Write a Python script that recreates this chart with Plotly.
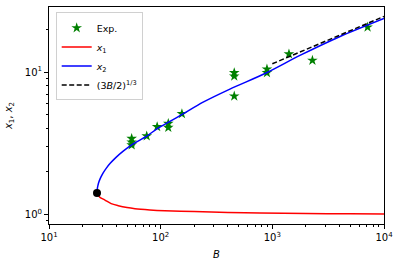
import plotly.graph_objects as go

# Experimental points
exp_B = [55, 55, 55, 75, 93, 117, 117, 155, 456, 456, 456, 895, 895, 1409, 2285, 7130]
exp_x = [3.07, 3.22, 3.41, 3.55, 4.13, 4.08, 4.35, 5.09, 9.89, 9.37, 6.78, 10.5, 9.89, 13.4, 12.1, 20.7]

# Branch x1 (lower, red)
x1_B = [26.9, 27.4, 28.6, 31.7, 36.0, 41.7, 50.0, 58.9, 80.0, 109, 200, 400, 774, 2000, 5000, 10000]
x1_x = [1.41, 1.37, 1.317, 1.26, 1.19, 1.15, 1.115, 1.095, 1.074, 1.06, 1.045, 1.03, 1.021, 1.013, 1.008, 1.005]

# Branch x2 (upper, blue)
x2_B = [26.9, 27.04, 27.43, 28.10, 29.07, 30.37, 32.51, 35.33, 39.84, 45.9, 55.0, 75.0, 94.0,
        120, 157, 240, 417, 889, 1766, 4000, 10000]
x2_x = [1.41, 1.499, 1.599, 1.706, 1.820, 1.942, 2.106, 2.283, 2.515, 2.772, 3.08, 3.55, 4.02,
        4.48, 5.06, 6.15, 7.6, 9.9, 13.1, 17.75, 23.85]

# Asymptote (3B/2)^(1/3)
asym_B = [1000, 10000]
asym_x = [11.45, 24.66]

# Fold point
fold_B = [26.9]
fold_x = [1.41]

x_tickvals = [10, 100, 1000, 10000]
x_ticktext = ["10<sup>1</sup>", "10<sup>2</sup>", "10<sup>3</sup>", "10<sup>4</sup>"]
y_tickvals = [1, 10]
y_ticktext = ["10<sup>0</sup>", "10<sup>1</sup>"]

x_minor = [m * d for d in (10, 100, 1000) for m in range(2, 10)]
y_minor = [0.9] + [m for m in range(2, 10)] + [20]

fig = go.Figure()
fig.add_trace(go.Scatter(x=exp_B, y=exp_x, mode="markers", name="Exp.",
                         marker=dict(symbol="star", color="green", size=8,
                                     line=dict(width=0))))
fig.add_trace(go.Scatter(x=x1_B, y=x1_x, mode="lines", name="<i>x</i><sub>1</sub>",
                         line=dict(color="red", width=1.5, shape="spline", smoothing=0.8)))
fig.add_trace(go.Scatter(x=x2_B, y=x2_x, mode="lines", name="<i>x</i><sub>2</sub>",
                         line=dict(color="blue", width=1.5, shape="spline", smoothing=0.8)))
fig.add_trace(go.Scatter(x=asym_B, y=asym_x, mode="lines",
                         name="(3<i>B</i>/2)<sup>1/3</sup>",
                         line=dict(color="black", width=1.5, dash="5px,2.5px")))
fig.add_trace(go.Scatter(x=fold_B, y=fold_x, mode="markers", showlegend=False,
                         marker=dict(color="black", size=8)))

axis_common = dict(type="log", showline=True, linecolor="black", linewidth=1,
                   mirror=True, ticks="outside", ticklen=4, tickcolor="black",
                   showgrid=False, zeroline=False,
                   tickfont=dict(family="DejaVu Sans", size=10, color="black"))

fig.update_layout(
    width=400, height=268,
    margin=dict(l=49, r=16, t=7, b=44),
    paper_bgcolor="white", plot_bgcolor="white",
    font=dict(family="DejaVu Sans", size=10, color="black"),
    xaxis=dict(range=[1, 4], tickmode="array", tickvals=x_tickvals, ticktext=x_ticktext,
               minor=dict(tickmode="array", tickvals=x_minor, ticks="outside",
                          ticklen=2, tickcolor="black"),
               title=dict(text="<i>B</i>", font=dict(size=10), standoff=8),
               **axis_common),
    yaxis=dict(range=[-0.068, 1.458], tickmode="array", tickvals=y_tickvals, ticktext=y_ticktext,
               minor=dict(tickmode="array", tickvals=y_minor, ticks="outside",
                          ticklen=2, tickcolor="black"),
               title=dict(text="<i>x</i><sub>1</sub>, <i>x</i><sub>2</sub>", font=dict(size=10), standoff=10),
               **axis_common),
    legend=dict(x=0.02, y=0.975, xanchor="left", yanchor="top",
                bgcolor="white", bordercolor="#d0d0d0", borderwidth=1,
                font=dict(size=9.5), tracegroupgap=0, itemwidth=30),
    showlegend=True,
)

fig.write_html("out.html", config={"displayModeBar": False},
               post_script="document.body.style.margin='0';document.body.style.padding='0';")
